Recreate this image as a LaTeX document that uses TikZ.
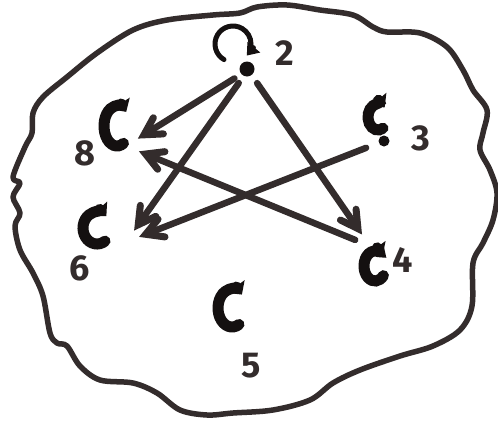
\documentclass[tikz,border=0pt]{standalone}
\usepackage{fontspec}
\setmainfont{Fira Sans}
\usetikzlibrary{arrows.meta,calc}
\definecolor{ink}{HTML}{332C2C}
\definecolor{deep}{HTML}{141010}
\begin{document}
\begin{tikzpicture}[x=1pt,y=-1pt,
  outline/.style={line width=5.5pt, draw=ink, line join=round},
  edge/.style={line width=6.5pt, draw=ink, line cap=round, shorten <=16pt, shorten >=14pt,
    -{Straight Barb[length=17pt,width=19pt,line width=7pt,line cap=round]}},
  selfloop/.style={line width=11pt, draw=deep, line cap=round, -{Triangle[length=10pt,width=21pt]}},
  thinloop/.style={line width=5pt, draw=deep, line cap=round, -{Triangle[length=11pt,width=16pt]}},
  dot/.style={circle, fill=deep, inner sep=0pt, minimum size=#1},
  lbl/.style={font=\fontsize{36}{36}\selectfont\bfseries, text=ink, inner sep=0pt}
]
\useasboundingbox (0,0) rectangle (498,426);
\fill[white] (0,0) rectangle (498,426);

% outline blob
\draw[outline] plot[smooth cycle, tension=0.55] coordinates {
 (13,177) (25,147) (32,133) (33,113) (43,97) (67,77) (97,53) (133,30) (167,20)
 (213,15) (240,13) (257,7) (287,5) (320,10) (353,15) (373,27) (387,32) (420,33)
 (447,47) (463,70) (473,90) (487,110) (483,133) (480,150) (490,170) (497,193)
 (493,220) (483,243) (473,263) (472,306) (460,330) (433,346) (400,356) (360,370)
 (333,383) (310,400) (273,410) (233,413) (207,415) (180,410) (157,393) (133,383)
 (100,380) (80,366) (67,346) (57,343) (50,333) (43,296) (33,273) (20,250)
 (15,226) (20,213) (13,197) (20,183)};

% vertices
\coordinate (v2) at (248,70);
\coordinate (v8) at (126,146);
\coordinate (v3) at (381,142);
\coordinate (v6) at (126,242);
\coordinate (v4) at (370,246);
\coordinate (v5) at (237,312);

% dots
\node[dot=15pt] (d2) at (247,69) {};
\node[dot=11pt] (d3) at (384,141) {};

% self loops
\draw[thinloop] (233,44) ++(120:18) arc[start angle=120, end angle=400, radius=18];
\draw[selfloop] (117,126) ++(60:13 and 20) arc[start angle=60, end angle=315, x radius=13, y radius=20];
\draw[selfloop] (97,228) ++(55:14 and 16) arc[start angle=55, end angle=312, x radius=14, y radius=16];
\draw[selfloop] (378,117) ++(60:10 and 13) arc[start angle=60, end angle=312, x radius=10, y radius=13];
\draw[selfloop] (375,266) ++(40:11 and 15) arc[start angle=40, end angle=315, x radius=11, y radius=15];
\draw[selfloop] (232,308) ++(60:14 and 19) arc[start angle=60, end angle=315, x radius=14, y radius=19];

% edges
\draw[edge] (v2) -- (v8);
\draw[edge] (v2) -- (v6);
\draw[edge] (v2) -- (v4);
\draw[edge] (v3) -- (v6);
\draw[edge] (v4) -- (v8);

% labels
\node[lbl] (l2) at (285,53) {2};
\node[lbl] (l8) at (85,153) {8};
\node[lbl] (l3) at (421,138) {3};
\node[lbl] (l6) at (80,268) {6};
\node[lbl] (l4) at (403,260) {4};
\node[lbl] (l5) at (251,366) {5};
\end{tikzpicture}
\end{document}
